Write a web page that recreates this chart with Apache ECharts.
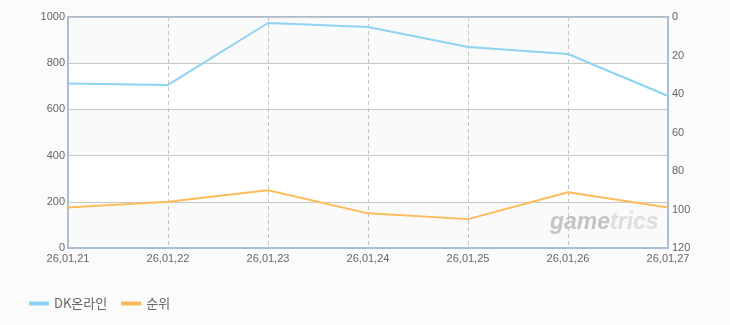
<!DOCTYPE html>
<html><head><meta charset="utf-8">
<script src="https://cdn.jsdelivr.net/npm/echarts@6/dist/echarts.min.js"></script>
<style>html,body{margin:0;padding:0;background:#fbfbfb;}#c{width:730px;height:325px;}</style>
</head><body><div id="c"></div>
<script>
var categories = ['26,01,21','26,01,22','26,01,23','26,01,24','26,01,25','26,01,26','26,01,27'];
var dkOnline = [712, 706, 974, 957, 870, 840, 658];
var rank = [99, 96, 90, 102, 105, 91, 99];
var leftTicks = {min: 0, max: 1000, interval: 200};
var rightTicks = {min: 0, max: 120, interval: 20};

var chart = echarts.init(document.getElementById('c'), null, {renderer: 'canvas'});
var font = '"Liberation Sans", Arial, sans-serif';
chart.setOption({
  backgroundColor: '#fbfbfb',
  animation: false,
  grid: {left: 68, right: 62, top: 17, bottom: 77, show: true, borderColor: '#aabdd2', borderWidth: 2, backgroundColor: 'transparent'},
  legend: {
    left: 24, top: 292, itemWidth: 20, itemHeight: 4, itemGap: 14,
    icon: 'rect',
    textStyle: {color: '#666', fontSize: 13, fontFamily: '"Noto Sans CJK KR", sans-serif'},
    data: ['DK온라인', '순위']
  },
  xAxis: {
    type: 'category', data: categories, boundaryGap: false,
    axisLine: {show: true, lineStyle: {color: '#aabdd2', width: 2}},
    axisTick: {show: false},
    axisLabel: {color: '#666', fontSize: 11, fontFamily: font, margin: 5, interval: 0},
    splitLine: {show: true, lineStyle: {color: '#c4c4c4', type: [4, 3], width: 1}}
  },
  yAxis: [{
    type: 'value', min: leftTicks.min, max: leftTicks.max, interval: leftTicks.interval,
    axisLine: {show: true, lineStyle: {color: '#aabdd2', width: 2}},
    axisTick: {show: false},
    axisLabel: {color: '#666', fontSize: 11, fontFamily: font, margin: 3, formatter: function (v) { return String(v); }},
    splitLine: {show: true, lineStyle: {color: '#c8c8c8', width: 1}},
    splitArea: {show: true, areaStyle: {color: ['#fafafa', '#ffffff']}}
  }, {
    type: 'value', min: rightTicks.min, max: rightTicks.max, interval: rightTicks.interval, inverse: true,
    position: 'right',
    axisLine: {show: true, lineStyle: {color: '#aabdd2', width: 2}},
    axisTick: {show: false},
    axisLabel: {color: '#666', fontSize: 11, fontFamily: font, margin: 4},
    splitLine: {show: false}
  }],
  graphic: [{
    type: 'text', left: 550, top: 211, z: 1,
    style: {
      rich: {
        a: {fontSize: 23, fontStyle: 'italic', fontWeight: 'bold', fill: '#c4c4c4', fontFamily: '"Liberation Sans", sans-serif'},
        b: {fontSize: 23, fontStyle: 'italic', fontWeight: 'bold', fill: '#dedede', fontFamily: '"Liberation Sans", sans-serif'}
      },
      text: '{a|game}{b|trics}'
    }
  }],
  series: [{
    name: 'DK온라인', type: 'line', yAxisIndex: 0, data: dkOnline,
    showSymbol: false, symbol: 'none', z: 3,
    lineStyle: {color: '#8fd2f3', width: 2}, itemStyle: {color: '#8fd2f3'}
  }, {
    name: '순위', type: 'line', yAxisIndex: 1, data: rank,
    showSymbol: false, symbol: 'none', z: 3,
    lineStyle: {color: '#ffbb5a', width: 2}, itemStyle: {color: '#f5b85c'}
  }]
});
</script></body></html>
